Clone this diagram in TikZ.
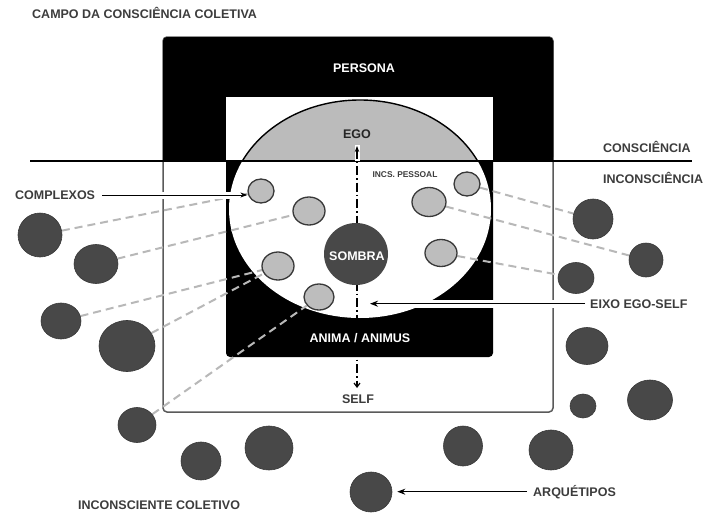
\documentclass[tikz,border=0pt]{standalone}
\usepackage{fontspec}
\setmainfont{Liberation Sans}
\usetikzlibrary{shapes.geometric,arrows.meta}
\pgfdeclarelayer{back}
\pgfdeclarelayer{mid}
\pgfsetlayers{back,mid,main}
\definecolor{dk}{HTML}{484848}
\definecolor{dkline}{HTML}{383838}
\definecolor{lt}{HTML}{BDBDBD}
\definecolor{egog}{HTML}{BBBBBB}
\definecolor{dashg}{HTML}{B8B8B8}
\definecolor{txt}{HTML}{3C3C3C}
\definecolor{framec}{HTML}{5A5A5A}
\begin{document}
\begin{tikzpicture}[x=1pt,y=-1pt,
  sz/.style 2 args={minimum width=#1pt,minimum height=#2pt},
  arch/.style={ellipse,fill=dk,draw=dkline,line width=0.6pt,inner sep=0pt},
  cplx/.style={ellipse,fill=lt,draw=dkline,line width=1.3pt,inner sep=0pt},
  lbl/.style={font=\fontsize{12.5}{14}\selectfont\bfseries,text=txt,inner sep=0pt},
  wlbl/.style={lbl,text=white},
  link/.style={draw=dashg,line width=2pt,dash pattern=on 8pt off 5pt},
  pointer/.style={draw=black,line width=1.3pt,-{Stealth[length=8pt,width=6pt]},
    preaction={draw=white,line width=8pt}},
  thinpointer/.style={draw=black,line width=0.9pt,-{Stealth[length=7pt,width=5pt]},
    preaction={draw=white,line width=7pt}},
  axisline/.style={draw=black,line width=1.2pt,dash pattern=on 9pt off 3pt on 1.5pt off 3pt,
    {Stealth[length=6pt,width=4.5pt]}-{Straight Barb[length=4pt,width=6pt]}}
]
\useasboundingbox (0,0) rectangle (705,514);

% ---------- background structure ----------
\begin{pgfonlayer}{back}
  \filldraw[fill=white,draw=framec,line width=1.5pt,rounded corners=4pt] (163,37) rectangle (553,412);
  \fill[black,rounded corners=4pt] (163,37) rectangle (553,161);
  \fill[black] (163,140) rectangle (553,161);
  \fill[black,rounded corners=4pt] (226,150) rectangle (493,357);
  \fill[white] (226,97) rectangle (493,161);
  \fill[white] (360,209) ellipse [x radius=131pt,y radius=109pt];
  \begin{scope}
    \clip (226,95) rectangle (493,161);
    \filldraw[fill=egog,draw=black,line width=1.4pt] (360,209) ellipse [x radius=131pt,y radius=109pt];
  \end{scope}
  \draw[black,line width=1.5pt] (30,161) -- (692,161);
\end{pgfonlayer}

% ---------- archetypes (outer dark circles) ----------
\node[arch,sz={44}{44}] (a) at (40,235) {};
\node[arch,sz={44}{39}] (b) at (96,264) {};
\node[arch,sz={40}{36}] (c) at (61,321) {};
\node[arch,sz={56}{51}] (d) at (127,346) {};
\node[arch,sz={38}{35}] (e) at (137,425) {};
\node[arch,sz={40}{38}] (f) at (201,461) {};
\node[arch,sz={48}{44}] (g) at (269,448) {};
\node[arch,sz={42}{40}] (h) at (371,492) {};
\node[arch,sz={39}{40}] (i) at (463,446) {};
\node[arch,sz={44}{40}] (j) at (551,450) {};
\node[arch,sz={26}{24}] (k) at (583,406) {};
\node[arch,sz={45}{40}] (l) at (650,400) {};
\node[arch,sz={42}{37}] (m) at (587,346) {};
\node[arch,sz={36}{31}] (n) at (576,278) {};
\node[arch,sz={34}{34}] (o) at (646,260) {};
\node[arch,sz={40}{40}] (p) at (593,219) {};

% ---------- complexes ----------
\node[cplx,sz={26}{24}] (c1) at (261,191) {};
\node[cplx,sz={32}{28}] (c2) at (309,211) {};
\node[cplx,sz={32}{28}] (c3) at (278,266) {};
\node[cplx,sz={30}{26}] (c4) at (319,297) {};
\node[cplx,sz={26}{24}] (c5) at (467,184) {};
\node[cplx,sz={34}{29}] (c6) at (429,202) {};
\node[cplx,sz={32}{27}] (c7) at (441,253) {};

% ---------- sombra ----------
\node[ellipse,fill=dk,inner sep=0pt,sz={64}{62}] (sombra) at (356,254) {};
\node[wlbl,anchor=base] (sombralbl) at (357,260) {SOMBRA};

% ---------- dashed links ----------
\begin{pgfonlayer}{mid}
  \draw[link] (a) -- (c1);
  \draw[link] (b) -- (c2);
  \draw[link] (c) -- (c3);
  \draw[link] (d) -- (c3);
  \draw[link] (e) -- (c4);
  \draw[link] (c5) -- (p);
  \draw[link] (c6) -- (o);
  \draw[link] (c7) -- (n);
  \coordinate (axtop) at (357,146);
  \coordinate (axbot) at (357,388);
  \draw[white,line width=5pt] (357,145) -- (357,161);
  \draw[axisline] (axtop) -- (axbot);
\end{pgfonlayer}

% ---------- labels ----------
\node[lbl,anchor=base west] (title) at (32,18) {CAMPO DA CONSCIÊNCIA COLETIVA};
\node[wlbl,anchor=base] (persona) at (364,72) {PERSONA};
\node[lbl,anchor=base,text=black!85] (ego) at (357,138) {EGO};
\node[lbl,anchor=base,font=\fontsize{8.4}{10}\selectfont\bfseries] (incs) at (405,177) {INCS. PESSOAL};
\node[lbl,anchor=base west] (consc) at (603,152) {CONSCIÊNCIA};
\node[lbl,anchor=base west] (inconsc) at (603,183) {INCONSCIÊNCIA};
\node[lbl,anchor=west] (complexos) at (15,195) {COMPLEXOS};
\node[wlbl,anchor=base] (anima) at (360,342) {ANIMA / ANIMUS};
\node[lbl,anchor=base] (self) at (358,403) {SELF};
\node[lbl,anchor=base west] (eixo) at (590,308) {EIXO EGO-SELF};
\node[lbl,anchor=base west] (arq) at (533,496) {ARQUÉTIPOS};
\node[lbl,anchor=base west] (incol) at (78,509) {INCONSCIENTE COLETIVO};

% ---------- pointers ----------
\coordinate (eixotip) at (370,303);
\draw[thinpointer,shorten <=7pt] (complexos.east) -- (complexos.east -| c1.west);
\draw[pointer,shorten <=5pt] (eixo.west) -- (eixo.west -| eixotip);
\draw[pointer,shorten <=6pt,shorten >=5pt] (arq.west) -- (arq.west -| h.east);
\end{tikzpicture}
\end{document}
